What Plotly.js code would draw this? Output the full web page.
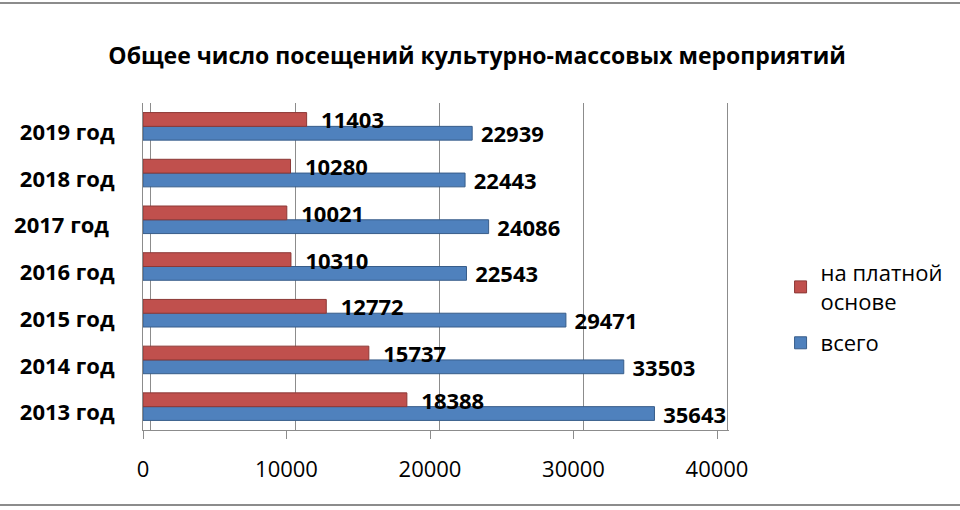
<!DOCTYPE html>
<html>
<head>
<meta charset="utf-8">
<script src="https://cdn.plot.ly/plotly-3.0.1.min.js"></script>
<style>
  body { margin: 0; background: #fff; }
  #chart { width: 960px; height: 510px; }
  .frame { position: absolute; left: 0; width: 960px; height: 2px; background: #8c8c8c; }
</style>
</head>
<body>
<div class="frame" style="top:2px"></div>
<div class="frame" style="top:504px"></div>
<div id="chart"></div>
<script>
var years = ['2013 год', '2014 год', '2015 год', '2016 год', '2017 год\u00a0', '2018 год', '2019 год'];
var paid = [18388, 15737, 12772, 10310, 10021, 10280, 11403];
var total = [35643, 33503, 29471, 22543, 24086, 22443, 22939];
var xTicks = [0, 10000, 20000, 30000, 40000];

var labelFont = {family: 'Open Sans', size: 22, color: '#000', weight: 'bold'};

var data = [
    {
        name: 'всего',
        legendgroup: 'b',
        legendrank: 2,
        type: 'bar',
        orientation: 'h',
        y: years,
        x: total,
        text: total.map(function (v) { return '\u00a0' + v; }),
        textposition: 'outside',
        constraintext: 'none',
        textfont: labelFont,
        cliponaxis: false,
        marker: {color: '#4f81bd', line: {color: '#385d8a', width: 1}}
    },
    {
        name: 'на платной<br>основе',
        legendgroup: 'a',
        legendrank: 1,
        type: 'bar',
        orientation: 'h',
        y: years,
        x: paid,
        text: paid.map(function (v) { return '\u00a0\u00a0' + v; }),
        textposition: 'outside',
        constraintext: 'none',
        textfont: labelFont,
        cliponaxis: false,
        marker: {color: '#c0504d', line: {color: '#8c3836', width: 1}}
    },
    // empty helper so the back-wall grid axis gets drawn
    {
        type: 'scatter',
        mode: 'none',
        xaxis: 'x2',
        x: xTicks,
        y: xTicks.map(function () { return years[0]; }),
        showlegend: false,
        hoverinfo: 'skip'
    }
];

var layout = {
    width: 960,
    height: 510,
    paper_bgcolor: 'rgba(0,0,0,0)',
    plot_bgcolor: 'rgba(0,0,0,0)',
    margin: {l: 143, r: 231, t: 103, b: 80},
    title: {
        text: 'Общее число посещений культурно-массовых мероприятий',
        font: {family: 'Open Sans', size: 23, color: '#000', weight: 'bold'},
        x: 0.497, xref: 'container', xanchor: 'center', y: 0.89, yanchor: 'middle'
    },
    barmode: 'group',
    bargap: 0.41,
    bargroupgap: 0,
    showlegend: true,
    legend: {
        traceorder: 'grouped',
        x: 1.088, y: 0.545, yanchor: 'top',
        font: {family: 'Open Sans', size: 22, color: '#000'},
        tracegroupgap: 10
    },
    // front axis: bars, tick labels
    xaxis: {
        range: [0, 40836],
        tickvals: xTicks,
        ticktext: xTicks.map(String),
        showgrid: false,
        zeroline: false,
        showline: true,
        linecolor: '#8c8c8c',
        ticks: 'outside',
        ticklen: 8,
        tickcolor: '#8c8c8c',
        tickfont: {family: 'Open Sans', size: 22, color: '#000'},
        ticklabelstandoff: 12
    },
    // back wall gridlines, set slightly deeper
    xaxis2: {
        overlaying: 'x',
        side: 'bottom',
        range: [-554, 40080],
        tickvals: xTicks,
        showticklabels: false,
        ticks: '',
        showgrid: true,
        gridcolor: '#8c8c8c',
        gridwidth: 1,
        zeroline: false,
        showline: false
    },
    yaxis: {
        type: 'category',
        showline: true,
        linecolor: '#8c8c8c',
        showgrid: false,
        ticks: '',
        tickfont: {family: 'Open Sans', size: 22, color: '#000', weight: 'bold'},
        ticklabelstandoff: 23,
        ticklabelshift: 6
    }
};

Plotly.newPlot('chart', data, layout, {displayModeBar: false, staticPlot: true});
</script>
</body>
</html>
